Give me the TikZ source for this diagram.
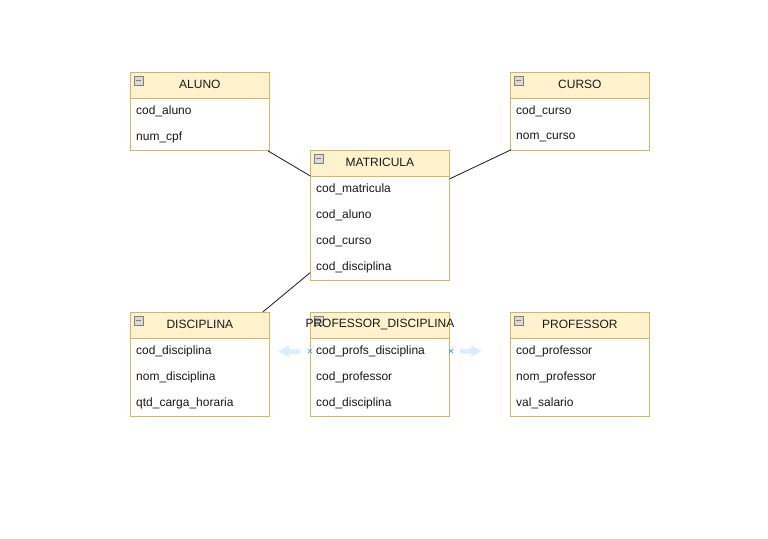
\documentclass[tikz,border=0pt]{standalone}
\usepackage{fontspec}
\setmainfont{Liberation Sans}
\usetikzlibrary{calc}
\definecolor{hdrfill}{HTML}{FFF2CC}
\definecolor{hdrline}{HTML}{D4B665}
\definecolor{iconfill}{HTML}{D9D9D9}
\definecolor{iconline}{HTML}{7F7F7F}
\definecolor{hintfill}{HTML}{DCEEFB}
\definecolor{hintmark}{HTML}{29A8E8}
\definecolor{relline}{HTML}{1A1A1A}

% entity box: id, x, y (top-left), number of fields, title, fields
\newcommand\entity[6]{%
  \node[bodybox, minimum height={26*#4}] (#1-body) at (#2,{#3+26}) {};
  \node[hdrbox] (#1) at (#2,#3) {};
  \node[iconbox] (#1-icon) at ($(#1.north west)+(8.5,8.5)$) {};
  \draw[iconline, line width=0.9pt] ($(#1-icon.center)+(-2.5,0)$) -- ($(#1-icon.center)+(2.5,0)$);
  \node[titletext] (#1-title) at ($(#1.center)+(0,-1)$) {#5};
  \foreach \f [count=\i] in {#6} {
    \node[fieldtext] (#1-\i) at ($(#1-body.north west)+(6,{13.5+26*(\i-1)})$) {\f};
  }%
}

\begin{document}
\begin{tikzpicture}[x=1pt, y=-1pt,
  hdrbox/.style={draw=hdrline, fill=hdrfill, line width=0.8pt, minimum width=139pt,
    minimum height=26pt, inner sep=0pt, anchor=north west},
  bodybox/.style={draw=hdrline, fill=white, line width=0.8pt, minimum width=139pt,
    inner sep=0pt, anchor=north west},
  iconbox/.style={draw=iconline, fill=iconfill, line width=0.6pt, minimum size=9pt, inner sep=0pt},
  titletext/.style={inner sep=0pt, font=\fontsize{12}{14}\selectfont, text=black!90},
  fieldtext/.style={anchor=west, inner sep=0pt, font=\fontsize{12}{14}\selectfont, text=black!90},
  rel/.style={draw=relline, line width=0.8pt},
  hint/.style={fill=hintfill, draw=none},
  hintx/.style={draw=hintmark, line width=0.7pt}
]
\useasboundingbox (0,0) rectangle (768,538);

\entity{aluno}{130}{72}{2}{ALUNO}{cod\_aluno, num\_cpf}
\entity{curso}{510}{72}{2}{CURSO}{cod\_curso, nom\_curso}
\entity{matricula}{310}{150}{4}{MATRICULA}{cod\_matricula, cod\_aluno, cod\_curso, cod\_disciplina}
\entity{disciplina}{130}{312}{3}{DISCIPLINA}{cod\_disciplina, nom\_disciplina, qtd\_carga\_horaria}
\entity{profdisc}{310}{312}{3}{PROFESSOR\_DISCIPLINA}{cod\_profs\_disciplina, cod\_professor, cod\_disciplina}
\entity{professor}{510}{312}{3}{PROFESSOR}{cod\_professor, nom\_professor, val\_salario}

% relationships
\draw[rel] ([xshift=-2pt]aluno-body.south east) -- ([yshift=1pt]matricula.south west);
\draw[rel] ([xshift=1pt,yshift=1pt]curso-body.south west) -- ([yshift=-2pt]matricula.south east);
\draw[rel] ([xshift=-7pt]disciplina.north east) -- ([yshift=8pt]matricula-body.south west);

% connection hints beside PROFESSOR_DISCIPLINA
\coordinate (hl) at ($(profdisc-1.west)+(-6,0)$);
\coordinate (hr) at ($(profdisc-body.north east)+(1,13)$);
\fill[hint] ($(hl)+(-10,-2.5)$) -- ($(hl)+(-21,-2.5)$) -- ($(hl)+(-21,-6)$) -- ($(hl)+(-32,0)$)
  -- ($(hl)+(-21,6)$) -- ($(hl)+(-21,2.5)$) -- ($(hl)+(-10,2.5)$) -- cycle;
\fill[hint] ($(hr)+(9,-2.5)$) -- ($(hr)+(20,-2.5)$) -- ($(hr)+(20,-6)$) -- ($(hr)+(31,0)$)
  -- ($(hr)+(20,6)$) -- ($(hr)+(20,2.5)$) -- ($(hr)+(9,2.5)$) -- cycle;
\draw[hintx] ($(profdisc-body.north west)+(-2,11)$) -- ++(4,4) ($(profdisc-body.north west)+(-2,15)$) -- ++(4,-4);
\draw[hintx] ($(profdisc-body.north east)+(-1,11)$) -- ++(4,4) ($(profdisc-body.north east)+(-1,15)$) -- ++(4,-4);
\end{tikzpicture}
\end{document}
